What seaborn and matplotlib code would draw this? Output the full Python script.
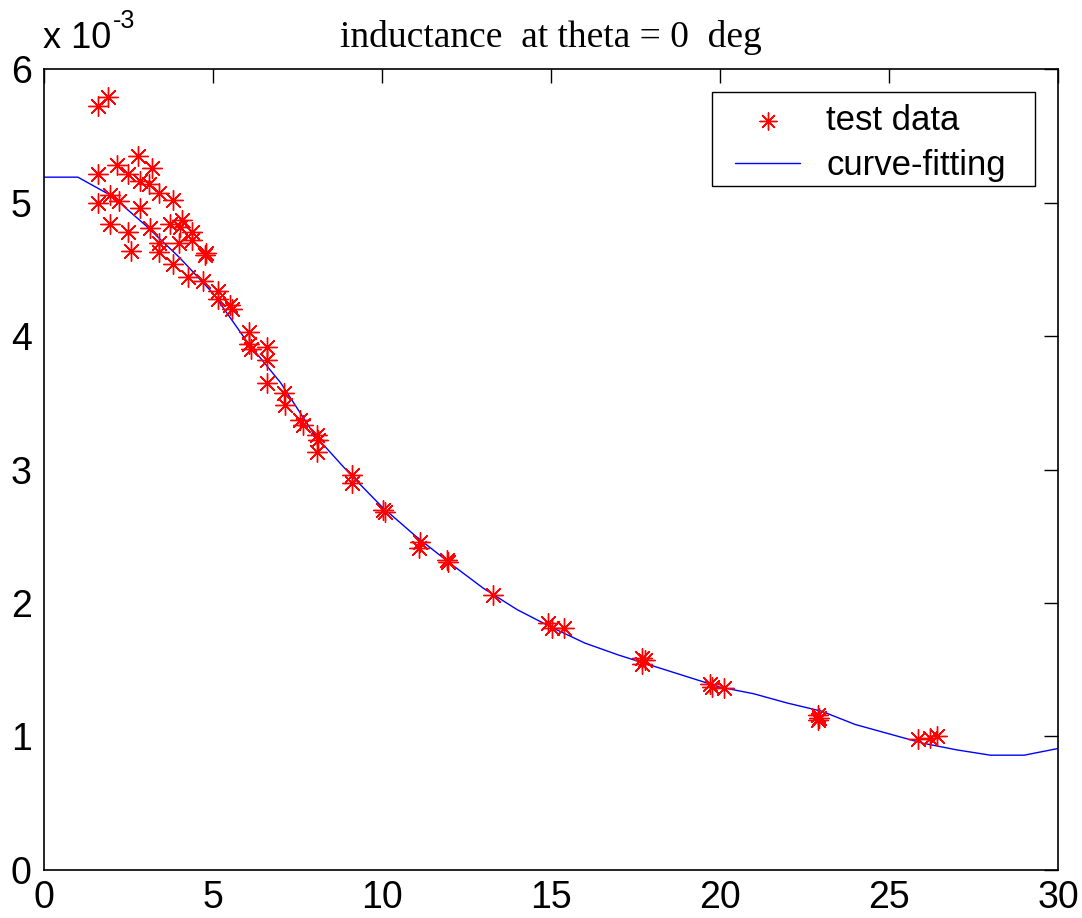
import matplotlib
matplotlib.use("Agg")
import matplotlib.pyplot as plt
from matplotlib.patches import Rectangle
import seaborn as sns
import pandas as pd

# Measured inductance (units of 1e-3 H) against current
test_x = [1.61, 1.88, 2.77, 2.15, 3.19, 1.61, 2.49, 2.84, 3.11, 3.41, 3.83, 1.95,
          2.22, 1.61, 2.84, 4.09, 3.73, 4.02, 4.37, 1.95, 2.49, 3.14, 3.40, 4.00,
          4.37, 2.56, 3.40, 4.79, 4.76, 3.83, 4.27, 4.71, 5.14, 5.14, 5.50, 5.55,
          6.05, 6.05, 6.12, 6.61, 6.61, 6.61, 7.10, 7.13, 7.57, 7.65, 8.07, 8.12,
          8.09, 9.10, 9.10, 10.04, 10.09, 11.12, 11.10, 11.91, 11.96, 13.29, 14.92,
          15.04, 15.39, 17.68, 17.78, 17.68, 19.70, 19.75, 20.12, 22.91, 22.94,
          22.91, 25.87, 26.21, 26.41]
test_y = [5.72, 5.79, 5.35, 5.28, 5.26, 5.21, 5.21, 5.16, 5.14, 5.07, 5.02, 5.06,
          5.01, 5.00, 4.96, 4.87, 4.84, 4.82, 4.78, 4.84, 4.78, 4.81, 4.70, 4.70,
          4.72, 4.64, 4.63, 4.62, 4.61, 4.54, 4.44, 4.41, 4.34, 4.28, 4.23, 4.20,
          4.03, 3.94, 3.90, 3.92, 3.82, 3.65, 3.57, 3.48, 3.37, 3.33, 3.26, 3.22,
          3.13, 2.96, 2.90, 2.70, 2.68, 2.46, 2.41, 2.32, 2.31, 2.06, 1.85,
          1.81, 1.81, 1.59, 1.57, 1.54, 1.39, 1.37, 1.36, 1.16, 1.14,
          1.12, 0.98, 0.99, 1.00]

# Fitted curve evaluated at integer currents
fit_x = list(range(0, 31))
fit_y = [5.19, 5.19, 5.05, 4.83, 4.59, 4.32, 3.96, 3.65, 3.26, 2.98, 2.72,
         2.50, 2.30, 2.11, 1.95, 1.82, 1.70, 1.61, 1.53, 1.45, 1.37, 1.32,
         1.25, 1.19, 1.09, 1.02, 0.95, 0.90, 0.86, 0.86, 0.91]

x_ticks = [0, 5, 10, 15, 20, 25, 30]
y_ticks = [0, 1, 2, 3, 4, 5, 6]

sns.set_theme(style="white")
plt.rcParams["font.family"] = ["Liberation Sans", "DejaVu Sans"]
plt.rcParams["text.color"] = "black"
plt.rcParams["xtick.color"] = "black"
plt.rcParams["ytick.color"] = "black"

fig = plt.figure(figsize=(10.82, 9.18), dpi=100)
ax = fig.add_axes([0.0407, 0.0523, 0.9371, 0.8725])

pts = pd.DataFrame({"x": test_x, "y": test_y})
fit = pd.DataFrame({"x": fit_x, "y": fit_y})

star = (8, 2, 0)
sns.scatterplot(data=pts, x="x", y="y", ax=ax, marker=star, s=200,
                color="red", edgecolor="red", linewidth=1.0, label="test data",
                zorder=3)
sns.lineplot(data=fit, x="x", y="y", ax=ax, color="blue", linewidth=1.0,
             label="curve-fitting", zorder=2)

ax.set_xlim(0, 30)
ax.set_ylim(0, 6)
ax.set_xticks(x_ticks)
ax.set_yticks(y_ticks)
ax.set_xlabel("")
ax.set_ylabel("")
ax.tick_params(direction="in", length=10, width=1.0, top=True, right=True,
               labelsize=27, labelcolor="black", color="black")
ax.tick_params(axis="x", pad=7)
ax.tick_params(axis="y", pad=9)
for s in ax.spines.values():
    s.set_visible(True)
    s.set_color("black")
    s.set_linewidth(1.2)

ax.set_title("inductance  at theta = 0  deg", family="Liberation Serif",
             fontsize=27, pad=16, color="black")

# exponent label above the y axis
fig.text(43 / 1082, 1 - 48 / 918, "x 10", fontsize=26, ha="left",
         va="baseline", color="black")
fig.text(113 / 1082, 1 - 28 / 918, "-3", fontsize=18, ha="left",
         va="baseline", color="black")

# legend entries without their own frame, boxed by a separate rectangle
leg = ax.legend(loc="upper left", bbox_to_anchor=(0.6815, 0.956),
                borderaxespad=0.0, fontsize=25, frameon=False,
                handlelength=1.87, handletextpad=0.75,
                borderpad=0.0, labelspacing=0.35)
leg.legend_handles[0].set_sizes([150])
for t in leg.get_texts():
    t.set_color("black")
ax.add_patch(Rectangle((0.659, 0.854), 0.318, 0.117, transform=ax.transAxes,
                       facecolor="white", edgecolor="black", linewidth=1.0,
                       zorder=4))
leg.set_zorder(5)

fig.savefig("out.png", dpi=100, facecolor="white")
